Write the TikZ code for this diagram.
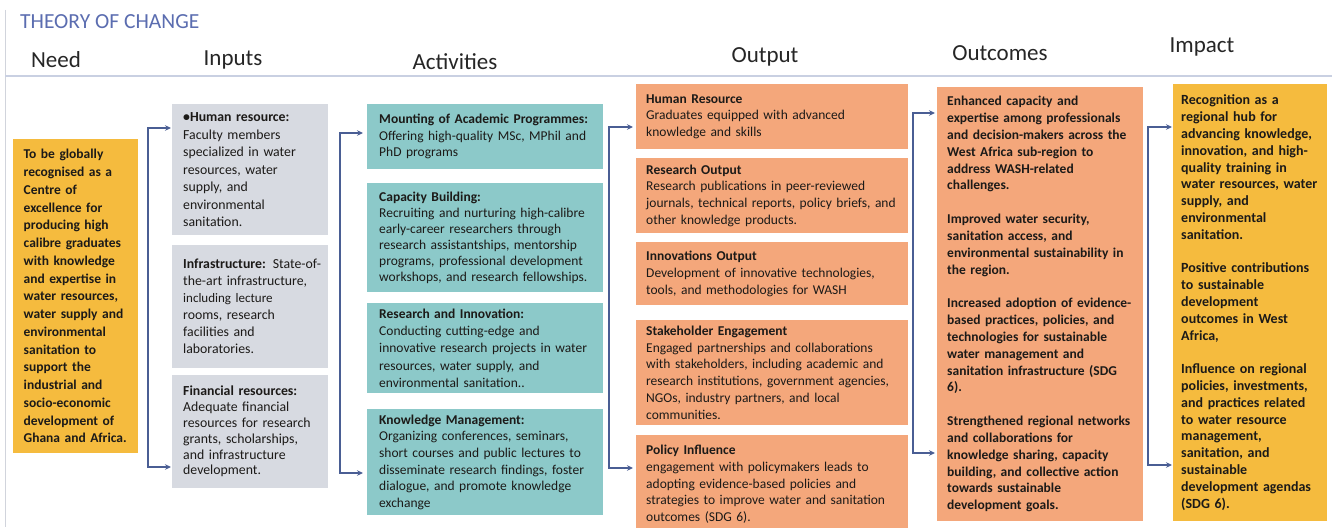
\documentclass[tikz,border=0pt]{standalone}
\usepackage{fontspec}
\setmainfont{Carlito}
\usetikzlibrary{arrows.meta}
\definecolor{needY}{HTML}{F5BB3E}
\definecolor{inpG}{HTML}{D7DAE1}
\definecolor{actT}{HTML}{8CC9C9}
\definecolor{outO}{HTML}{F4A77B}
\definecolor{brkC}{HTML}{4A5E94}
\definecolor{ttlC}{HTML}{5B6DB0}
\definecolor{ruleC}{HTML}{C9D0E2}
\definecolor{txtC}{HTML}{1C1A18}
\begin{document}
\begin{tikzpicture}[x=1pt,y=-1pt,
  base/.style={anchor=north west, align=left, inner ysep=0pt, text=txtC, draw=none},
  needbox/.style={base, fill=needY, inner xsep=10.5pt, text width=104pt, font=\fontsize{13.5}{17.75}\selectfont\bfseries},
  inbox/.style={base, fill=inpG, inner xsep=11pt, text width=134pt, font=\fontsize{13.8}{17.5}\selectfont},
  actbox/.style={base, fill=actT, inner xsep=12pt, text width=212pt, font=\fontsize{13.5}{16.6}\selectfont},
  outbox/.style={base, fill=outO, inner xsep=10pt, text width=252pt, font=\fontsize{13.5}{16.8}\selectfont},
  ocbox/.style={base, fill=outO, inner xsep=10pt, text width=186pt, font=\fontsize{13.5}{16.83}\selectfont\bfseries},
  impbox/.style={base, fill=needY, inner xsep=8pt, text width=138pt, font=\fontsize{14}{16.8}\selectfont\bfseries},
  hdr/.style={font=\fontsize{23}{26}\selectfont, text=black!85, inner sep=0pt},
  brk/.style={draw=brkC, line width=1.4pt, {Stealth[length=6pt,width=5.5pt]}-{Stealth[length=6pt,width=5.5pt]}}
]
\useasboundingbox (0,0) rectangle (1332,527);
\fill[white] (0,0) rectangle (1332,527);
\draw[ruleC!70!gray!60, line width=1pt] (5,10) -- (5,527);
\draw[ruleC, line width=1.5pt] (5,76) -- (1332,76);

\node[anchor=west, inner sep=0pt, text=ttlC, font=\fontsize{21.5}{24}\selectfont] (title) at (20,22) {THEORY OF CHANGE};
\node[hdr] (hneed) at (56,60) {Need};
\node[hdr] (hin) at (233,60) {Inputs};
\node[hdr] (hact) at (455,62) {Activities};
\node[hdr] (hout) at (765,57) {Output};
\node[hdr] (hoc) at (1000,53) {Outcomes};
\node[hdr] (himp) at (1202,47) {Impact};

% Need
\node[needbox, minimum height=314pt] (need) at (13,139) {To be globally\\recognised as a\\Centre of\\excellence for\\producing high\\calibre graduates\\with knowledge\\and expertise in\\water resources,\\water supply and\\environmental\\sanitation to\\support the\\industrial and\\socio-economic\\development of\\Ghana and Africa.};

% Inputs
\node[inbox, minimum height=131pt] (hr) at (172,104) {\textbf{\textbullet Human resource:}\\Faculty members\\specialized in water\\resources, water\\supply, and\\environmental\\sanitation.};
\node[inbox, minimum height=123pt, font=\fontsize{13.8}{17}\selectfont] (inf) at (172,245) {\mbox{\textbf{Infrastructure:} State-of-}\\the-art infrastructure,\\{\fontsize{13}{17}\selectfont including lecture}\\rooms, research\\facilities and\\laboratories.};
\node[inbox, minimum height=113pt, font=\fontsize{13.8}{15.8}\selectfont] (fin) at (172,375) {\textbf{Financial resources:}\\Adequate financial\\resources for research\\grants, scholarships,\\and infrastructure\\development.};

% Activities
\node[actbox, minimum height=65pt] (mount) at (367,104) {\textbf{Mounting of Academic Programmes:}\\Offering high-quality MSc, MPhil and\\PhD programs};
\node[actbox, minimum height=109pt, font=\fontsize{13.5}{16}\selectfont] (cap) at (367,183) {\textbf{Capacity Building:}\\Recruiting and nurturing high-calibre\\early-career researchers through\\research assistantships, mentorship\\programs, professional development\\workshops, and research fellowships.};
\node[actbox, minimum height=90pt, font=\fontsize{13.5}{17.2}\selectfont] (ri) at (367,303) {\textbf{Research and Innovation:}\\Conducting cutting-edge and\\innovative research projects in water\\resources, water supply, and\\environmental sanitation..};
\node[actbox, minimum height=106pt] (km) at (367,409) {\textbf{Knowledge Management:}\\Organizing conferences, seminars,\\short courses and public lectures to\\disseminate research findings, foster\\dialogue, and promote knowledge\\exchange};

% Output
\node[outbox, minimum height=65pt] (hro) at (636,84) {\textbf{Human Resource}\\Graduates equipped with advanced\\knowledge and skills};
\node[outbox, minimum height=75pt] (ro) at (636,158) {\textbf{Research Output}\\Research publications in peer-reviewed\\journals, technical reports, policy briefs, and\\other knowledge products.};
\node[outbox, minimum height=63pt] (io) at (636,242) {\textbf{Innovations Output}\\Development of innovative technologies,\\tools, and methodologies for WASH};
\node[outbox, minimum height=105pt] (se) at (636,320) {\textbf{Stakeholder Engagement}\\Engaged partnerships and collaborations\\with stakeholders, including academic and\\research institutions, government agencies,\\NGOs, industry partners, and local\\communities.};
\node[outbox, minimum height=98pt] (pol) at (636,435) {\textbf{Policy Influence}\\engagement with policymakers leads to\\adopting evidence-based policies and\\strategies to improve water and sanitation\\outcomes (SDG 6).};

% Outcomes
\node[ocbox, minimum height=434pt] (oc) at (937,87) {Enhanced capacity and\\expertise among professionals\\and decision-makers across the\\West Africa sub-region to\\address WASH-related\\challenges.\\[16.83pt]Improved water security,\\sanitation access, and\\environmental sustainability in\\the region.\\[16.83pt]Increased adoption of evidence-\\based practices, policies, and\\technologies for sustainable\\water management and\\sanitation infrastructure (SDG\\6).\\[16.83pt]Strengthened regional networks\\and collaborations for\\knowledge sharing, capacity\\building, and collective action\\towards sustainable\\development goals.};

% Impact
\node[impbox, minimum height=437pt] (imp) at (1173,84) {Recognition as a\\regional hub for\\advancing knowledge,\\innovation, and high-\\quality training in\\water resources, water\\supply, and\\environmental\\sanitation.\\[16.8pt]Positive contributions\\to sustainable\\development\\outcomes in West\\Africa,\\[16.8pt]Influence on regional\\policies, investments,\\and practices related\\to water resource\\management,\\sanitation, and\\sustainable\\development agendas\\(SDG 6).};

% Brackets
\coordinate (k1t) at (148,128); \coordinate (k1b) at (148,467);
\draw[brk, shorten <=1pt, shorten >=1pt] (hr.west |- k1t) -- (k1t) -- (k1b) -- (fin.west |- k1b);
\coordinate (k2t) at (340,133); \coordinate (k2b) at (340,473);
\draw[brk, shorten <=4pt, shorten >=4pt] (mount.west |- k2t) -- (k2t) -- (k2b) -- (km.west |- k2b);
\coordinate (k3t) at (609,127); \coordinate (k3b) at (609,468);
\draw[brk, shorten <=3pt, shorten >=3pt] (hro.west |- k3t) -- (k3t) -- (k3b) -- (pol.west |- k3b);
\coordinate (k4t) at (913,113); \coordinate (k4b) at (913,453);
\draw[brk, shorten <=2pt, shorten >=2pt] (oc.west |- k4t) -- (k4t) -- (k4b) -- (oc.west |- k4b);
\coordinate (k5t) at (1148,127); \coordinate (k5b) at (1148,465);
\draw[brk, shorten <=1pt, shorten >=1pt] (imp.west |- k5t) -- (k5t) -- (k5b) -- (imp.west |- k5b);
\end{tikzpicture}
\end{document}
